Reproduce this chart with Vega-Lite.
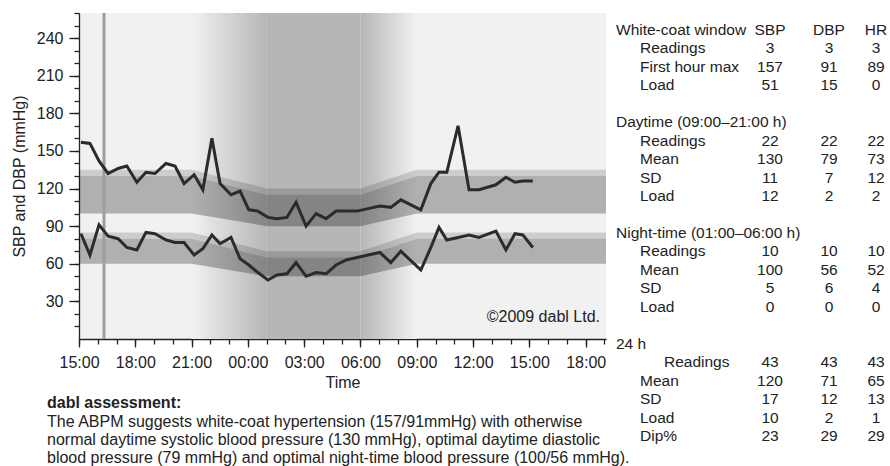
{
  "$schema": "https://vega.github.io/schema/vega-lite/v6.json",
  "background": "white",
  "padding": {"left": 11, "top": 11, "right": 0, "bottom": 0},
  "config": {
    "font": "Liberation Sans",
    "view": {"stroke": null},
    "axis": {"labelFont": "Liberation Sans", "titleFont": "Liberation Sans", "labelColor": "#222", "titleColor": "#222", "tickColor": "#222", "domainColor": "#222", "labelFontSize": 16, "titleFontSize": 16, "titleFontWeight": "normal", "grid": false, "tickWidth": 1.3, "domainWidth": 1.3},
    "text": {"font": "Liberation Sans", "fontSize": 15.5, "color": "#222"}
  },
  "datasets": {
    "readings": [
      {"t": "2009-01-01T15:06", "SBP": 157, "DBP": 84},
      {"t": "2009-01-01T15:35", "SBP": 156, "DBP": 67},
      {"t": "2009-01-01T16:04", "SBP": 142, "DBP": 91},
      {"t": "2009-01-01T16:33", "SBP": 132, "DBP": 82},
      {"t": "2009-01-01T17:05", "SBP": 136, "DBP": 80},
      {"t": "2009-01-01T17:33", "SBP": 138, "DBP": 73},
      {"t": "2009-01-01T18:05", "SBP": 125, "DBP": 71},
      {"t": "2009-01-01T18:34", "SBP": 133, "DBP": 85},
      {"t": "2009-01-01T19:03", "SBP": 132, "DBP": 84},
      {"t": "2009-01-01T19:38", "SBP": 140, "DBP": 79},
      {"t": "2009-01-01T20:07", "SBP": 138, "DBP": 77},
      {"t": "2009-01-01T20:36", "SBP": 124, "DBP": 77},
      {"t": "2009-01-01T21:08", "SBP": 131, "DBP": 67},
      {"t": "2009-01-01T21:36", "SBP": 119, "DBP": 72},
      {"t": "2009-01-01T22:05", "SBP": 160, "DBP": 83},
      {"t": "2009-01-01T22:31", "SBP": 124, "DBP": 76},
      {"t": "2009-01-01T23:06", "SBP": 115, "DBP": 81},
      {"t": "2009-01-01T23:35", "SBP": 118, "DBP": 64},
      {"t": "2009-01-02T00:03", "SBP": 103, "DBP": 59},
      {"t": "2009-01-02T00:32", "SBP": 102, "DBP": 53},
      {"t": "2009-01-02T01:04", "SBP": 97, "DBP": 47},
      {"t": "2009-01-02T01:33", "SBP": 96, "DBP": 51},
      {"t": "2009-01-02T02:05", "SBP": 97, "DBP": 52},
      {"t": "2009-01-02T02:34", "SBP": 109, "DBP": 61},
      {"t": "2009-01-02T03:06", "SBP": 90, "DBP": 50},
      {"t": "2009-01-02T03:38", "SBP": 100, "DBP": 53},
      {"t": "2009-01-02T04:10", "SBP": 96, "DBP": 52},
      {"t": "2009-01-02T04:42", "SBP": 102, "DBP": 59},
      {"t": "2009-01-02T05:14", "SBP": 102, "DBP": 63},
      {"t": "2009-01-02T05:49", "SBP": 102, "DBP": 65},
      {"t": "2009-01-02T06:24", "SBP": 104, "DBP": 67},
      {"t": "2009-01-02T07:02", "SBP": 106, "DBP": 69},
      {"t": "2009-01-02T07:37", "SBP": 105, "DBP": 61},
      {"t": "2009-01-02T08:09", "SBP": 111, "DBP": 70},
      {"t": "2009-01-02T09:13", "SBP": 103, "DBP": 55},
      {"t": "2009-01-02T09:45", "SBP": 124, "DBP": 73},
      {"t": "2009-01-02T10:11", "SBP": 133, "DBP": 89},
      {"t": "2009-01-02T10:36", "SBP": 133, "DBP": 79},
      {"t": "2009-01-02T11:12", "SBP": 170, "DBP": 81},
      {"t": "2009-01-02T11:47", "SBP": 119, "DBP": 83},
      {"t": "2009-01-02T12:19", "SBP": 119, "DBP": 81},
      {"t": "2009-01-02T13:13", "SBP": 123, "DBP": 86},
      {"t": "2009-01-02T13:45", "SBP": 129, "DBP": 71},
      {"t": "2009-01-02T14:14", "SBP": 125, "DBP": 84},
      {"t": "2009-01-02T14:39", "SBP": 126, "DBP": 83},
      {"t": "2009-01-02T15:11", "SBP": 126, "DBP": 73}
    ],
    "phases": [
      {"phase": "evening", "start": "2009-01-01T21:00", "end": "2009-01-02T01:00"},
      {"phase": "night", "start": "2009-01-02T01:00", "end": "2009-01-02T06:00"},
      {"phase": "morning", "start": "2009-01-02T06:00", "end": "2009-01-02T09:00"}
    ],
    "bands": [
      {"t": "2009-01-01T15:00", "sbp_lo": 100, "sbp_mid": 130, "sbp_hi": 135, "dbp_lo": 60, "dbp_mid": 80, "dbp_hi": 85},
      {"t": "2009-01-01T21:00", "sbp_lo": 100, "sbp_mid": 130, "sbp_hi": 135, "dbp_lo": 60, "dbp_mid": 80, "dbp_hi": 85},
      {"t": "2009-01-02T01:00", "sbp_lo": 90, "sbp_mid": 115, "sbp_hi": 120, "dbp_lo": 50, "dbp_mid": 65, "dbp_hi": 70},
      {"t": "2009-01-02T06:00", "sbp_lo": 90, "sbp_mid": 115, "sbp_hi": 120, "dbp_lo": 50, "dbp_mid": 65, "dbp_hi": 70},
      {"t": "2009-01-02T09:00", "sbp_lo": 100, "sbp_mid": 130, "sbp_hi": 135, "dbp_lo": 60, "dbp_mid": 80, "dbp_hi": 85},
      {"t": "2009-01-02T19:05", "sbp_lo": 100, "sbp_mid": 130, "sbp_hi": 135, "dbp_lo": 60, "dbp_mid": 80, "dbp_hi": 85}
    ],
    "table": [
      {"row": 0, "level": "header", "label": "White-coat window", "SBP": "SBP", "DBP": "DBP", "HR": "HR"},
      {"row": 1, "level": "item", "label": "Readings", "SBP": 3, "DBP": 3, "HR": 3},
      {"row": 2, "level": "item", "label": "First hour max", "SBP": 157, "DBP": 91, "HR": 89},
      {"row": 3, "level": "item", "label": "Load", "SBP": 51, "DBP": 15, "HR": 0},
      {"row": 4, "level": "item", "label": "", "SBP": "", "DBP": "", "HR": ""},
      {"row": 5, "level": "header", "label": "Daytime (09:00–21:00 h)", "SBP": "", "DBP": "", "HR": ""},
      {"row": 6, "level": "item", "label": "Readings", "SBP": 22, "DBP": 22, "HR": 22},
      {"row": 7, "level": "item", "label": "Mean", "SBP": 130, "DBP": 79, "HR": 73},
      {"row": 8, "level": "item", "label": "SD", "SBP": 11, "DBP": 7, "HR": 12},
      {"row": 9, "level": "item", "label": "Load", "SBP": 12, "DBP": 2, "HR": 2},
      {"row": 10, "level": "item", "label": "", "SBP": "", "DBP": "", "HR": ""},
      {"row": 11, "level": "header", "label": "Night-time (01:00–06:00 h)", "SBP": "", "DBP": "", "HR": ""},
      {"row": 12, "level": "item", "label": "Readings", "SBP": 10, "DBP": 10, "HR": 10},
      {"row": 13, "level": "item", "label": "Mean", "SBP": 100, "DBP": 56, "HR": 52},
      {"row": 14, "level": "item", "label": "SD", "SBP": 5, "DBP": 6, "HR": 4},
      {"row": 15, "level": "item", "label": "Load", "SBP": 0, "DBP": 0, "HR": 0},
      {"row": 16, "level": "item", "label": "", "SBP": "", "DBP": "", "HR": ""},
      {"row": 17, "level": "header", "label": "24 h", "SBP": "", "DBP": "", "HR": ""},
      {"row": 18, "level": "indented", "label": "Readings", "SBP": 43, "DBP": 43, "HR": 43},
      {"row": 19, "level": "item", "label": "Mean", "SBP": 120, "DBP": 71, "HR": 65},
      {"row": 20, "level": "item", "label": "SD", "SBP": 17, "DBP": 12, "HR": 13},
      {"row": 21, "level": "item", "label": "Load", "SBP": 10, "DBP": 2, "HR": 1},
      {"row": 22, "level": "item", "label": "Dip%", "SBP": 23, "DBP": 29, "HR": 29}
    ]
  },
  "bounds": "flush",
  "spacing": 10,
  "hconcat": [
    {
      "width": 527,
      "height": 326,
      "view": {"fill": "#f1f1f1", "stroke": null},
      "title": {
        "text": "dabl assessment:",
        "subtitle": [
          "The ABPM suggests white-coat hypertension (157/91mmHg) with otherwise",
          "normal daytime systolic blood pressure (130 mmHg), optimal daytime diastolic",
          "blood pressure (79 mmHg) and optimal night-time blood pressure (100/56 mmHg)."
        ],
        "orient": "bottom",
        "anchor": "start",
        "frame": "group",
        "dx": -32,
        "offset": 5,
        "font": "Liberation Sans",
        "fontSize": 16,
        "fontWeight": "bold",
        "color": "#222",
        "subtitleFont": "Liberation Sans",
        "subtitleFontSize": 16,
        "subtitleColor": "#222",
        "subtitlePadding": 3,
        "subtitleLineHeight": 18
      },
      "resolve": {"axis": {"x": "independent", "y": "independent"}},
      "layer": [
        {
          "data": {"name": "phases"},
          "transform": [{"filter": "datum.phase === 'evening'"}],
          "mark": {"type": "rect", "color": {"gradient": "linear", "x1": 0, "x2": 1, "y1": 0, "y2": 0, "stops": [{"offset": 0, "color": "#f1f1f1"}, {"offset": 1, "color": "#b6b6b6"}]}},
          "encoding": {
            "x": {"field": "start", "type": "temporal", "axis": null, "scale": {"nice": false}},
            "x2": {"field": "end"}
          }
        },
        {
          "data": {"name": "phases"},
          "transform": [{"filter": "datum.phase === 'night'"}],
          "mark": {"type": "rect", "color": "#b6b6b6"},
          "encoding": {
            "x": {"field": "start", "type": "temporal", "axis": null},
            "x2": {"field": "end"}
          }
        },
        {
          "data": {"name": "phases"},
          "transform": [{"filter": "datum.phase === 'morning'"}],
          "mark": {"type": "rect", "color": {"gradient": "linear", "x1": 0, "x2": 1, "y1": 0, "y2": 0, "stops": [{"offset": 0, "color": "#b6b6b6"}, {"offset": 1, "color": "#f1f1f1"}]}},
          "encoding": {
            "x": {"field": "start", "type": "temporal", "axis": null},
            "x2": {"field": "end"}
          }
        },
        {
          "data": {"name": "bands"},
          "mark": {"type": "area", "color": "#000", "opacity": 0.15},
          "encoding": {
            "x": {"field": "t", "type": "temporal", "axis": null},
            "y": {"field": "sbp_mid", "type": "quantitative", "axis": null, "scale": {"domain": [0, 260], "nice": false}},
            "y2": {"field": "sbp_hi"}
          }
        },
        {
          "data": {"name": "bands"},
          "mark": {"type": "area", "color": "#000", "opacity": 0.27},
          "encoding": {
            "x": {"field": "t", "type": "temporal", "axis": null},
            "y": {"field": "sbp_lo", "type": "quantitative", "axis": null},
            "y2": {"field": "sbp_mid"}
          }
        },
        {
          "data": {"name": "bands"},
          "mark": {"type": "area", "color": "#000", "opacity": 0.15},
          "encoding": {
            "x": {"field": "t", "type": "temporal", "axis": null},
            "y": {"field": "dbp_mid", "type": "quantitative", "axis": null},
            "y2": {"field": "dbp_hi"}
          }
        },
        {
          "data": {"name": "bands"},
          "mark": {"type": "area", "color": "#000", "opacity": 0.27},
          "encoding": {
            "x": {"field": "t", "type": "temporal", "axis": null},
            "y": {"field": "dbp_lo", "type": "quantitative", "axis": null},
            "y2": {"field": "dbp_mid"}
          }
        },
        {
          "data": {"values": [{"t": "2009-01-01T16:20", "event": "end of white-coat window"}]},
          "mark": {"type": "rule", "color": "#9c9c9c", "strokeWidth": 3},
          "encoding": {
            "x": {"field": "t", "type": "temporal", "axis": null}
          }
        },
        {
          "data": {"name": "readings"},
          "mark": {"type": "line", "color": "#2b2b2b", "strokeWidth": 3},
          "encoding": {
            "x": {"field": "t", "type": "temporal", "title": "Time",
              "axis": {"orient": "bottom", "format": "%H:%M", "tickCount": 9, "tickSize": 8, "labelPadding": 7, "titlePadding": 4, "labelFlush": false, "labelOverlap": false}},
            "y": {"field": "SBP", "type": "quantitative", "title": "SBP and DBP (mmHg)",
              "axis": {"orient": "left", "values": [30, 60, 90, 120, 150, 180, 210, 240], "tickSize": 10, "labelPadding": 6, "titlePadding": 9}}
          }
        },
        {
          "data": {"name": "readings"},
          "mark": {"type": "line", "color": "#2b2b2b", "strokeWidth": 3},
          "encoding": {
            "x": {"field": "t", "type": "temporal", "title": null,
              "axis": {"orient": "bottom", "labels": false, "domain": false, "tickCount": 28, "tickSize": 5}},
            "y": {"field": "DBP", "type": "quantitative", "title": null,
              "axis": {"orient": "left", "labels": false, "domain": false, "values": [10, 20, 30, 40, 50, 60, 70, 80, 90, 100, 110, 120, 130, 140, 150, 160, 170, 180, 190, 200, 210, 220, 230, 240, 250, 260], "tickSize": 5}}
          }
        },
        {
          "data": {"values": [{"note": "©2009 dabl Ltd."}]},
          "mark": {"type": "text", "align": "right", "baseline": "middle", "fontSize": 16, "color": "#222", "dx": -6, "dy": -22},
          "encoding": {
            "x": {"value": "width"},
            "y": {"value": "height"},
            "text": {"field": "note"}
          }
        }
      ]
    },
    {
      "bounds": "flush",
      "spacing": 83,
      "hconcat": [
        {
          "width": 48,
          "height": 440,
          "data": {"name": "table"},
          "mark": {"type": "text", "align": "left", "baseline": "middle"},
          "encoding": {
            "x": {"field": "level", "type": "nominal", "axis": null, "scale": {"type": "point", "domain": ["header", "item", "indented"], "padding": 0}},
            "y": {"field": "row", "type": "ordinal", "axis": null, "scale": {"type": "point", "padding": 0.92}},
            "text": {"field": "label", "type": "nominal"}
          }
        },
        {
          "bounds": "flush",
          "spacing": 0,
          "hconcat": [
            {
              "width": 46,
              "height": 440,
              "data": {"name": "table"},
              "mark": {"type": "text", "align": "center", "baseline": "middle"},
              "encoding": {
                "y": {"field": "row", "type": "ordinal", "axis": null, "scale": {"type": "point", "padding": 0.92}},
                "text": {"field": "SBP", "type": "nominal"}
              }
            },
            {
              "width": 72,
              "height": 440,
              "data": {"name": "table"},
              "mark": {"type": "text", "align": "center", "baseline": "middle"},
              "encoding": {
                "y": {"field": "row", "type": "ordinal", "axis": null, "scale": {"type": "point", "padding": 0.92}},
                "text": {"field": "DBP", "type": "nominal"}
              }
            },
            {
              "width": 22,
              "height": 440,
              "data": {"name": "table"},
              "mark": {"type": "text", "align": "center", "baseline": "middle"},
              "encoding": {
                "y": {"field": "row", "type": "ordinal", "axis": null, "scale": {"type": "point", "padding": 0.92}},
                "text": {"field": "HR", "type": "nominal"}
              }
            }
          ]
        }
      ]
    }
  ]
}
